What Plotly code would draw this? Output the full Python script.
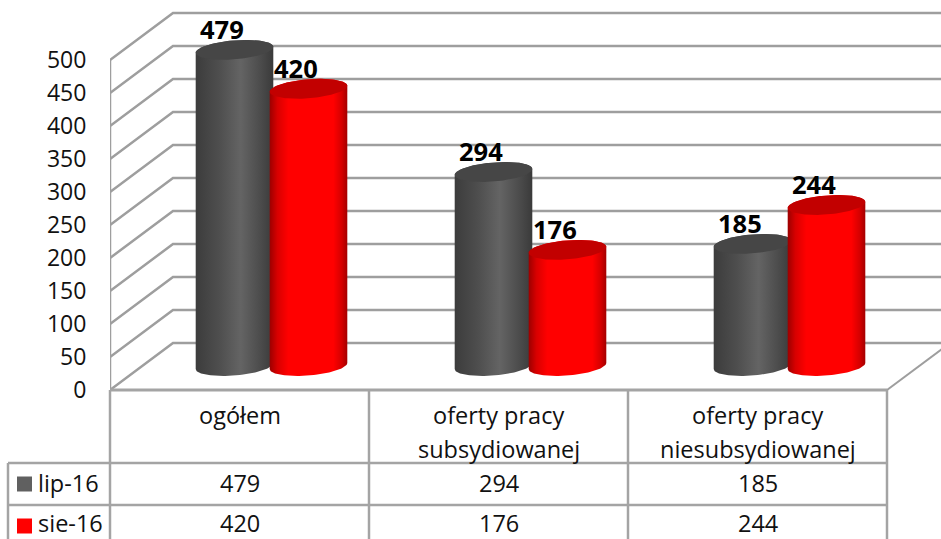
import numpy as np
import plotly.graph_objects as go

categories = ["ogółem", "oferty pracy<br>subsydiowanej", "oferty pracy<br>niesubsydiowanej"]
series_names = ["lip-16", "sie-16"]
lip_16 = [479, 294, 185]
sie_16 = [420, 176, 244]
y_ticks = [0, 50, 100, 150, 200, 250, 300, 350, 400, 450, 500]

W, H = 941, 539
CAT_PX = 259.0          # pixels per category
UNIT_PX = 0.66          # pixels per value unit
Y0_PX = 390.0           # pixel row of value 0 on the front edge
X_LEFT = 110.0
FONT = "Open Sans"
GRID = "#9e9e9e"
TABLE = "#a4a4a4"


def dx(px):
    return px / CAT_PX


def dy(px):
    return px / UNIT_PX


x_range = [-0.5, -0.5 + (W - X_LEFT) / CAT_PX]
y_range = [(Y0_PX - H) / UNIT_PX, Y0_PX / UNIT_PX]
BASE = dy(24)           # cylinders stand in the middle of the floor's depth
A, B, TILT = 38.8, 9.5, 3.0
BODY_COLORS = {
    0: [[0, "#3c3c3c"], [0.3, "#4e4e4e"], [0.58, "#646464"], [0.85, "#4a4a4a"], [1, "#3a3a3a"]],
    1: [[0, "#9c0000"], [0.1, "#d80000"], [0.24, "#ff0000"], [0.82, "#ff0000"], [0.93, "#d40000"], [1, "#a40000"]],
}
TOP_COLORS = {0: "#464646", 1: "#c20000"}
SOLID = {0: "#5a5a5a", 1: "#ff0000"}
KEY = {0: "#606060", 1: "#ff0000"}
OFFSET_PX = {0: -5.0, 1: 69.0}

fig = go.Figure()
t_all = np.linspace(0, 2 * np.pi, 120)


def ex(c, t):
    return c + dx(A) * np.cos(t)


def ey(c, t):
    # screen down = value down; the ellipse leans up to the right
    return c - dy(B) * np.sin(t) + dy(TILT) * np.cos(t)


for s, (name, values) in enumerate(zip(series_names, [lip_16, sie_16])):
    fig.add_trace(go.Bar(
        x=list(range(len(categories))), y=values, base=BASE, name=name,
        width=dx(70), offset=dx(OFFSET_PX[s] - 35),
        marker=dict(color=SOLID[s], line=dict(width=0)), showlegend=False,
    ))
    for i, v in enumerate(values):
        cx = i + dx(OFFSET_PX[s])
        top = v + BASE
        # body: lower half of the bottom ellipse + upper half of the top ellipse
        tb = np.linspace(np.pi, 0, 60)
        tt = np.linspace(0, -np.pi, 60)
        xs = np.r_[ex(cx, tb), ex(cx, tt)]
        ys = np.r_[BASE + dy(B) * -np.sin(tb) + dy(TILT) * np.cos(tb),
                   top - dy(B) * np.sin(tt) + dy(TILT) * np.cos(tt)]
        fig.add_trace(go.Scatter(
            x=xs, y=ys, mode="lines", fill="toself", line=dict(width=0),
            fillgradient=dict(type="horizontal", colorscale=BODY_COLORS[s]),
            showlegend=False, hoverinfo="skip",
        ))
        fig.add_trace(go.Scatter(
            x=ex(cx, t_all), y=ey(top, t_all), mode="lines", fill="toself",
            line=dict(width=0), fillcolor=TOP_COLORS[s],
            showlegend=False, hoverinfo="skip",
        ))
        fig.add_annotation(
            x=cx, y=v, text=f"<b>{v}</b>", showarrow=False, xanchor="center", yanchor="middle",
            xshift=-13, yshift=45, font=dict(family=FONT, size=25.5, color="#000000"),
        )

shapes = []
deep_x, deep_y = dx(63), dy(47)
for v in y_ticks:
    shapes.append(dict(
        type="path", xref="x", yref="y", layer="below",
        path=f"M {x_range[0]} {v} L {x_range[0] + deep_x} {v + deep_y} L {x_range[1]} {v + deep_y}",
        line=dict(color=GRID, width=2.5),
    ))
# left wall and floor
shapes.append(dict(type="line", xref="x", yref="y", layer="below", x0=x_range[0], x1=x_range[0],
                   y0=y_ticks[0], y1=y_ticks[-1], line=dict(color=GRID, width=2.5)))
floor_right = 2.5
shapes.append(dict(type="path", xref="x", yref="y", layer="below",
                   path=f"M {floor_right} 0 L {floor_right + deep_x} {deep_y}",
                   line=dict(color=GRID, width=2)))


def px_x(p):
    return p / W


def px_y(p):
    return 1 - p / H


# data table rules
for p in [110, 369, 628, 887]:
    shapes.append(dict(type="line", xref="paper", yref="paper", x0=px_x(p), x1=px_x(p),
                       y0=px_y(390), y1=px_y(539), line=dict(color=TABLE, width=2.5)))
shapes.append(dict(type="line", xref="paper", yref="paper", x0=px_x(8), x1=px_x(8),
                   y0=px_y(463), y1=px_y(539), line=dict(color=TABLE, width=2.5)))
for p, start in [(390, 110), (463, 8), (505, 8)]:
    shapes.append(dict(type="line", xref="paper", yref="paper", x0=px_x(start), x1=px_x(887),
                       y0=px_y(p), y1=px_y(p), line=dict(color=TABLE, width=3 if p == 390 else 2.5)))
# legend keys
for s, cy in enumerate([484, 526]):
    shapes.append(dict(type="rect", xref="paper", yref="paper", x0=px_x(17), x1=px_x(32),
                       y0=px_y(cy - 7.5), y1=px_y(cy + 7.5), fillcolor=KEY[s], line=dict(width=0)))

TXT = dict(family=FONT, size=23.5, color="#111111")
for i, cat in enumerate(categories):
    lines = cat.split("<br>")
    for j, line in enumerate(lines):
        fig.add_annotation(xref="x", x=i, yref="paper", y=px_y(415 + 34 * j), text=line, showarrow=False,
                           xanchor="center", yanchor="middle", font=TXT)
    for cy, values in zip([483, 523], [lip_16, sie_16]):
        fig.add_annotation(xref="x", x=i, yref="paper", y=px_y(cy), text=str(values[i]), showarrow=False,
                           xanchor="center", yanchor="middle", font=TXT)
for cy, name in zip([483, 523], series_names):
    fig.add_annotation(xref="paper", x=px_x(39), yref="paper", y=px_y(cy), text=name, showarrow=False,
                       xanchor="left", yanchor="middle", xshift=-3, font=TXT)

fig.update_layout(
    width=W, height=H, margin=dict(l=0, r=0, t=0, b=0), paper_bgcolor="#ffffff", plot_bgcolor="#ffffff",
    showlegend=False, shapes=shapes, barmode="overlay", font=dict(family=FONT),
    xaxis=dict(domain=[X_LEFT / W, 1], range=x_range, showgrid=False, zeroline=False, showticklabels=False,
               ticks="", showline=False),
    yaxis=dict(domain=[0, 1], range=y_range, tickvals=y_ticks, showgrid=False, zeroline=False, showline=False,
               ticks="outside", ticklen=18, tickcolor="rgba(0,0,0,0)",
               tickfont=dict(family=FONT, size=23, color="#111111")),
)
fig.write_html("out.html", config=dict(displayModeBar=False),
               post_script="document.body.style.margin='0';")
